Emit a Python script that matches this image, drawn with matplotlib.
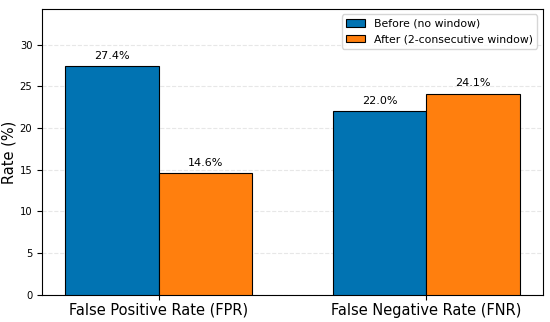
import matplotlib
matplotlib.use("Agg")
import matplotlib.pyplot as plt
import numpy as np

categories = ["False Positive Rate (FPR)", "False Negative Rate (FNR)"]
before = [27.4, 22.0]
after = [14.6, 24.1]
labels = ["Before (no window)", "After (2-consecutive window)"]

fig, ax = plt.subplots(figsize=(5.5, 3.22), dpi=100)
x = np.arange(len(categories))
w = 0.35
b1 = ax.bar(x - w/2, before, w, color="#0173B2", edgecolor="black", linewidth=0.8, label=labels[0], zorder=3)
b2 = ax.bar(x + w/2, after, w, color="#FF7F0E", edgecolor="black", linewidth=0.8, label=labels[1], zorder=3)
for bars in (b1, b2):
    for r in bars:
        h = r.get_height()
        ax.annotate(f"{h:.1f}%", (r.get_x() + r.get_width()/2, h), xytext=(0, 4),
                    textcoords="offset points", ha="center", va="bottom", fontsize=8)
ax.set_ylim(0, max(before + after) * 1.25)
ax.set_xticks(x)
ax.set_xticklabels(categories, fontsize=10.5)
ax.tick_params(axis="x", pad=2)
ax.tick_params(axis="y", labelsize=7.2)
ax.set_ylabel("Rate (%)", fontsize=10.5, labelpad=2)
ax.yaxis.grid(True, linestyle="--", alpha=0.3, zorder=0)
ax.legend(fontsize=7.8, loc="upper right", handlelength=1.8)
fig.subplots_adjust(left=0.0764, right=0.987, top=0.972, bottom=0.0839)
fig.savefig("out.png")
